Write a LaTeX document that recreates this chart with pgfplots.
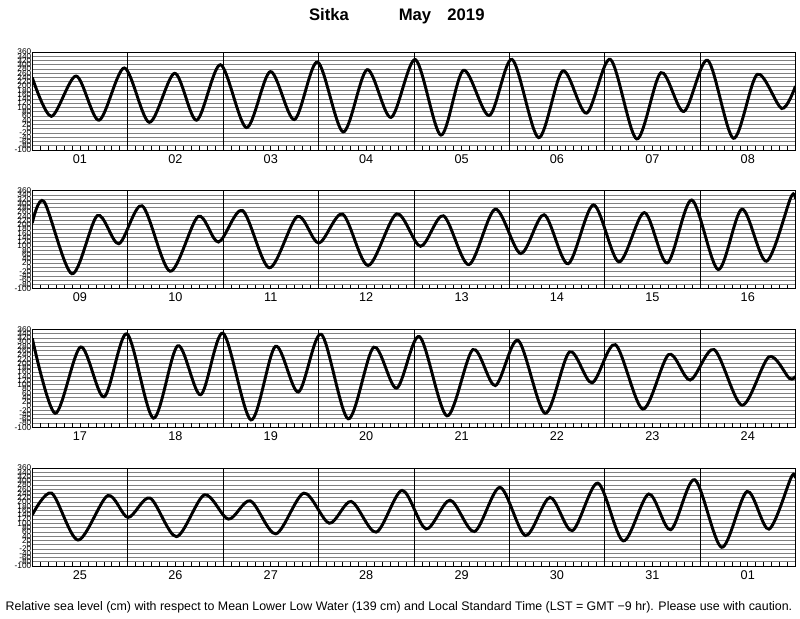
\documentclass[border=0pt]{standalone}
\usepackage{fontspec}
\setmainfont{Liberation Sans}
\usepackage{pgfplots}
\pgfplotsset{compat=1.18}

\pgfplotsset{
  tidepanel/.style={
    scale only axis, width=572.4pt, height=73.5pt,
    xmin=0, xmax=8, ymin=-100, ymax=360,
    anchor=north west,
    axis line style={black, line width=0.6pt},
    ytick={-100,-80,...,360},
    ymajorgrids,
    major grid style={black!50, line width=0.5pt},
    yticklabel style={font=\fontsize{6.2}{6.2}\selectfont, inner sep=0.6pt},
    /pgf/number format/assume math mode=true,
    ytick style={draw=none},
    xtick={0.5,1.5,...,7.5},
    minor xtick={0,0.0833333,...,8},
    xtick pos=left, tick align=inside,
    major tick length=3pt, minor tick length=3pt,
    xtick style={black, line width=0.45pt},
    minor tick style={black, line width=0.45pt},
    xticklabel style={font=\fontsize{9.5}{9.5}\selectfont, inner sep=3pt},
    extra x ticks={1,2,...,7},
    extra x tick labels={},
    extra x tick style={xmajorgrids, major grid style={black, line width=0.5pt}},
    tide/.style={black, line width=2.2pt, smooth, no markers},
  }
}

\begin{document}
\begin{tikzpicture}
\path[use as bounding box] (0,0) rectangle (600pt,-463.5pt);

\node[font=\bfseries\fontsize{12.5}{12.5}\selectfont, anchor=base] at (246.75pt,-15.5pt) {Sitka};
\node[font=\bfseries\fontsize{12.5}{12.5}\selectfont, anchor=base] at (311.25pt,-15.5pt) {May};
\node[font=\bfseries\fontsize{12.5}{12.5}\selectfont, anchor=base] at (349.5pt,-15.5pt) {2019};

% Panel 1: May 01-08
\begin{axis}[tidepanel, at={(24.2pt,-39pt)},
  xticklabels={01,02,03,04,05,06,07,08}]
\addplot[tide] coordinates {
(0,240) (0.20,58) (0.46,247) (0.70,40) (0.965,285) (1.227,30) (1.493,260)
(1.723,40) (1.973,300) (2.245,5) (2.496,268) (2.747,43) (2.99,313)
(3.259,-15) (3.51,277) (3.76,53) (4.016,324) (4.283,-30) (4.52,274)
(4.79,62) (5.03,325) (5.307,-42) (5.56,271) (5.81,73) (6.06,325)
(6.336,-48) (6.59,263) (6.83,81) (7.08,321) (7.35,-45) (7.6,255)
(7.856,95) (8.0,200)};
\end{axis}

% Panel 2: May 09-16
\begin{axis}[tidepanel, at={(24.2pt,-143pt)},
  xticklabels={09,10,11,12,13,14,15,16}]
\addplot[tide] coordinates {
(0,208) (0.123,309) (0.416,-30) (0.683,243) (0.907,111) (1.152,289)
(1.445,-18) (1.739,239) (1.952,119) (2.203,267) (2.485,-2) (2.779,239)
(3.003,114) (3.253,250) (3.52,9) (3.819,251) (4.07,99) (4.31,242)
(4.576,13) (4.853,273) (5.12,65) (5.365,247) (5.616,17) (5.883,293)
(6.149,26) (6.416,257) (6.656,21) (6.912,316) (7.19,-10) (7.44,273)
(7.696,29) (7.952,329) (8.0,322)};
\end{axis}

% Panel 3: May 17-24
\begin{axis}[tidepanel, at={(24.2pt,-247pt)},
  xticklabels={17,18,19,20,21,22,23,24}]
\addplot[tide] coordinates {
(0,318) (0.24,-34) (0.507,277) (0.752,43) (0.992,339) (1.27,-57)
(1.525,283) (1.765,53) (2.0,342) (2.293,-65) (2.549,280) (2.789,66)
(3.029,337) (3.312,-60) (3.579,276) (3.819,84) (4.059,326) (4.347,-46)
(4.619,265) (4.853,96) (5.093,308) (5.376,-34) (5.632,254) (5.867,109)
(6.112,288) (6.4,-14) (6.672,242) (6.896,122) (7.147,265) (7.44,4)
(7.723,231) (7.936,130) (8.0,140)};
\end{axis}

% Panel 4: May 25 - Jun 01
\begin{axis}[tidepanel, at={(24.2pt,-351pt)},
  xticklabels={25,26,27,28,29,30,31,01}]
\addplot[tide] coordinates {
(0,140) (0.203,242) (0.48,22) (0.79,230) (1.004,128) (1.234,219)
(1.511,38) (1.805,234) (2.056,120) (2.286,206) (2.553,51) (2.847,242)
(3.113,101) (3.343,203) (3.605,59) (3.877,255) (4.128,74) (4.379,209)
(4.635,62) (4.903,269) (5.17,43) (5.426,222) (5.661,66) (5.928,289)
(6.195,18) (6.462,238) (6.692,70) (6.943,305) (7.226,-12) (7.493,250)
(7.722,73) (7.957,318) (8.0,312)};
\end{axis}

\node[font=\fontsize{9.3}{9.3}\selectfont] at (299.25pt,-455.25pt)
  {Relative sea level (cm) with respect to Mean Lower Low Water (139 cm) and Local Standard Time (LST = GMT −9 hr). Please use with caution.};
\end{tikzpicture}
\end{document}
